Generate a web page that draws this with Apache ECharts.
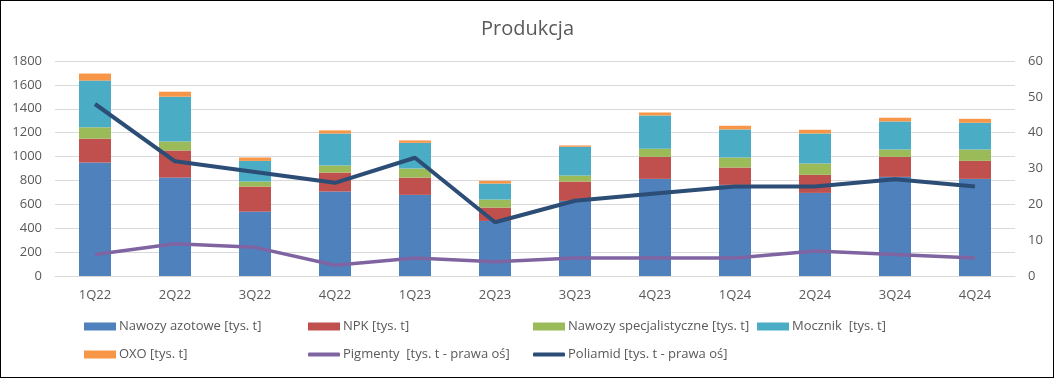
<!DOCTYPE html>
<html>
<head>
<meta charset="utf-8">
<script src="https://cdn.jsdelivr.net/npm/echarts@6/dist/echarts.min.js"></script>
<style>
html,body{margin:0;padding:0;background:#fff;}
#wrap{position:absolute;left:0;top:0;width:1054px;height:378px;border:1px solid #000;box-sizing:border-box;background:#fff;}
#chart{position:absolute;left:-1px;top:-1px;width:1055px;height:379px;}
</style>
</head>
<body>
<div id="wrap"><div id="chart"></div></div>
<script>
const categories = ['1Q22','2Q22','3Q22','4Q22','1Q23','2Q23','3Q23','4Q23','1Q24','2Q24','3Q24','4Q24'];
const nawozyAzotowe = [950, 824, 539, 707, 679, 461, 629, 813, 763, 696, 830, 813];
const npk = [200, 227, 210, 159, 145, 112, 162, 185, 145, 151, 168, 151];
const nawozySpec = [95, 75, 42, 59, 76, 67, 50, 67, 84, 95, 61, 95];
const mocznik = [391, 375, 173, 268, 215, 134, 241, 279, 235, 251, 235, 224];
const oxo = [59, 42, 28, 26, 20, 23, 11, 25, 31, 31, 31, 33];
const pigmenty = [6, 9, 8, 3, 5, 4, 5, 5, 5, 7, 6, 5];
const poliamid = [48, 32, 29, 26, 33, 15, 21, 23, 25, 25, 27, 25];
const leftTicks = {min: 0, max: 1800, interval: 200};
const rightTicks = {min: 0, max: 60, interval: 10};

const names = {
  az: 'Nawozy azotowe [tys. t]',
  npk: 'NPK [tys. t]',
  spec: 'Nawozy specjalistyczne [tys. t]',
  moc: 'Mocznik  [tys. t]',
  oxo: 'OXO [tys. t]',
  pig: 'Pigmenty  [tys. t - prawa oś]',
  pol: 'Poliamid [tys. t - prawa oś]'
};
const colors = {az:'#4F81BD', npk:'#C0504D', spec:'#9BBB59', moc:'#4BACC6', oxo:'#F79646', pig:'#8064A2', pol:'#2C4D75'};
const FONT = 'Open Sans';
const txt = {color:'#595959', fontSize:13, fontFamily:FONT};

function leg(name, left, top, isLine){
  return {
    data:[name], left:left, top:top, padding:0, orient:'horizontal',
    itemWidth:32, itemHeight: isLine ? 4 : 8, itemGap:0,
    icon: isLine ? 'roundRect' : 'rect',
    textStyle:Object.assign({}, txt, {padding:[0,0,0,-2]}),
    selectedMode:false
  };
}

function bar(key, data){
  return {name:names[key], type:'bar', stack:'p', data:data, barWidth:32,
    itemStyle:{color:colors[key]}, emphasis:{disabled:true}, animation:false};
}

const plain = v => String(v);

const chart = echarts.init(document.getElementById('chart'), null, {renderer:'canvas'});
chart.setOption({
  animation:false,
  title:{text:'Produkcja', left:'center', top:14, textStyle:{color:'#595959', fontSize:20, fontWeight:'normal', fontFamily:FONT}},
  grid:{left:55, right:40, top:61, bottom:103, containLabel:false},
  legend:[
    leg(names.az, 84, 320, false),
    leg(names.npk, 308, 320, false),
    leg(names.spec, 533, 320, false),
    leg(names.moc, 757, 320, false),
    leg(names.oxo, 84, 348, false),
    leg(names.pig, 308, 348, true),
    leg(names.pol, 533, 348, true)
  ],
  xAxis:{type:'category', data:categories,
    axisLine:{lineStyle:{color:'#d9d9d9'}}, axisTick:{show:false},
    axisLabel:Object.assign({}, txt, {margin:13})},
  yAxis:[
    {type:'value', min:leftTicks.min, max:leftTicks.max, interval:leftTicks.interval,
     axisLine:{show:false}, axisTick:{show:false},
     splitLine:{lineStyle:{color:'#d9d9d9'}},
     axisLabel:Object.assign({}, txt, {margin:13, formatter:plain})},
    {type:'value', min:rightTicks.min, max:rightTicks.max, interval:rightTicks.interval,
     axisLine:{show:false}, axisTick:{show:false}, splitLine:{show:false},
     axisLabel:Object.assign({}, txt, {margin:13, formatter:plain})}
  ],
  series:[
    bar('az', nawozyAzotowe),
    bar('npk', npk),
    bar('spec', nawozySpec),
    bar('moc', mocznik),
    bar('oxo', oxo),
    {name:names.pig, type:'line', yAxisIndex:1, data:pigmenty, symbol:'none',
     lineStyle:{color:colors.pig, width:3.5}, itemStyle:{color:colors.pig}, emphasis:{disabled:true}},
    {name:names.pol, type:'line', yAxisIndex:1, data:poliamid, symbol:'none',
     lineStyle:{color:colors.pol, width:4}, itemStyle:{color:colors.pol}, emphasis:{disabled:true}}
  ]
});
</script>
</body>
</html>
